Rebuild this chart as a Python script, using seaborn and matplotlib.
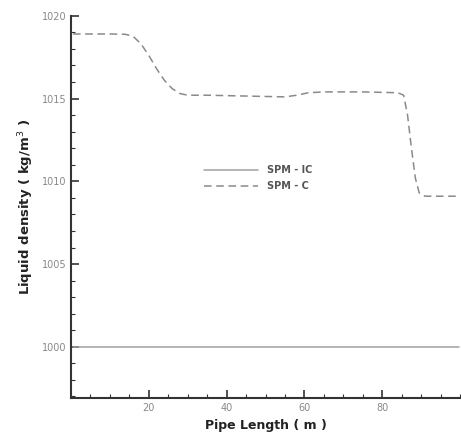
import matplotlib
matplotlib.use("Agg")
import matplotlib.pyplot as plt
from matplotlib.ticker import MultipleLocator
import seaborn as sns
import pandas as pd

# pipe length (m) and liquid density (kg/m^3)
length_c = [0.5, 5, 10, 14, 16, 18, 20, 22, 24, 26, 28, 30, 35, 45, 55, 58, 61, 65,
            75, 84, 85.5, 86.5, 87.5, 88.5, 89.5, 91, 95, 99.7]
density_c = [1018.9, 1018.9, 1018.9, 1018.88, 1018.75, 1018.3, 1017.6, 1016.8,
             1016.1, 1015.6, 1015.3, 1015.2, 1015.2, 1015.15, 1015.1, 1015.2, 1015.35,
             1015.4, 1015.4, 1015.35, 1015.2, 1014.0, 1012.0, 1010.2, 1009.3,
             1009.1, 1009.1, 1009.1]
length_ic = [0.5, 99.7]
density_ic = [1000.0, 1000.0]

df = pd.concat([
    pd.DataFrame({"x": length_ic, "y": density_ic, "case": "SPM - IC"}),
    pd.DataFrame({"x": length_c, "y": density_c, "case": "SPM - C"}),
])

sns.set_style("ticks")
plt.rcParams['font.family'] = ['DejaVu Sans']

fig = plt.figure(figsize=(4.61, 4.38), dpi=100)
ax = fig.add_axes([0.154, 0.091, 0.844, 0.873])
sns.lineplot(data=df, x="x", y="y", hue="case", style="case",
             palette={"SPM - IC": "#a0a0a0", "SPM - C": "#8a8a8a"},
             dashes={"SPM - IC": "", "SPM - C": (5, 3)},
             linewidth=1.1, ax=ax, sort=False)

ax.set_xlim(0, 100)
ax.set_ylim(996.9, 1020)
ax.xaxis.set_major_locator(MultipleLocator(20))
ax.xaxis.set_minor_locator(MultipleLocator(5))
ax.yaxis.set_major_locator(MultipleLocator(5))
ax.yaxis.set_minor_locator(MultipleLocator(1))
ax.set_xticks([20, 40, 60, 80])
ax.tick_params(which="both", direction="in", colors="#333333", labelcolor="#888888", labelsize=7)
ax.tick_params(which="major", length=6, width=1.2)
ax.tick_params(which="minor", length=3, width=0.8)
for s in ["top", "right"]:
    ax.spines[s].set_visible(False)
for s in ["left", "bottom"]:
    ax.spines[s].set_linewidth(1.5)
    ax.spines[s].set_color("#333333")

ax.set_xlabel("Pipe Length ( m )", fontsize=9, fontweight="bold", color="#222222")
ax.set_ylabel("Liquid density ( kg/m$^3$ )", fontsize=9.5, fontweight="bold", color="#222222")
ax.legend(frameon=False, loc="center left", bbox_to_anchor=(0.32, 0.575),
          handlelength=5.5, labelspacing=0.6, handletextpad=1.0,
          prop={"weight": "bold", "size": 7})
for t in ax.get_legend().get_texts():
    t.set_color("#555555")

fig.savefig("out.png", dpi=100)
